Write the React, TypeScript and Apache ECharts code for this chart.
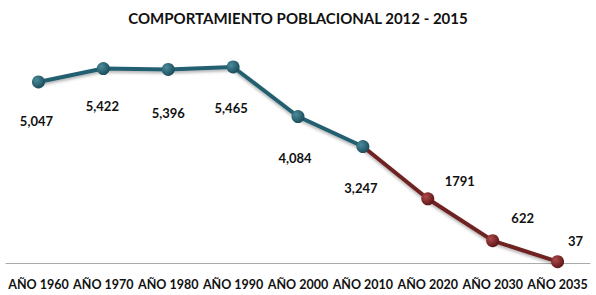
import React, { useEffect, useRef } from "react";
import * as echarts from "echarts";

const categories = ["AÑO 1960", "AÑO 1970", "AÑO 1980", "AÑO 1990", "AÑO 2000", "AÑO 2010", "AÑO 2020", "AÑO 2030", "AÑO 2035"];
const values = [5047, 5422, 5396, 5465, 4084, 3247, 1791, 622, 37];
const valueLabels = ["5,047", "5,422", "5,396", "5,465", "4,084", "3,247", "1791", "622", "37"];
const labelOffsets: [number, number][] = [
  [-2, 39], [-1, 37], [0, 44], [-2, 41], [-3, 41], [-2, 41], [32, -18], [30, -23], [18, -21],
];
const historicalEnd = 5;

const FONT = "Lato, 'Open Sans', sans-serif";

function ball(c1: string, c2: string) {
  return new echarts.graphic.RadialGradient(0.35, 0.35, 0.7, [
    { offset: 0, color: c1 },
    { offset: 1, color: c2 },
  ]);
}

export default function App() {
  const ref = useRef<HTMLDivElement>(null);
  useEffect(() => {
    document.body.style.margin = "0";
    if (!ref.current) return;
    const chart = echarts.init(ref.current, null, { renderer: "svg" });
    const mkLabel = (i: number) => ({
      show: true,
      position: "inside",
      offset: labelOffsets[i],
      formatter: valueLabels[i],
      color: "#111",
      fontFamily: FONT,
      fontWeight: "bold",
      fontSize: 13,
    });
    const teal = values.map((v, i) =>
      i <= historicalEnd ? { value: v, label: mkLabel(i) } : "-"
    );
    const red = values.map((v, i) =>
      i < historicalEnd
        ? "-"
        : i === historicalEnd
        ? { value: v, symbol: "none", label: { show: false } }
        : { value: v, label: mkLabel(i) }
    );
    chart.setOption({
      animation: false,
      title: {
        text: "COMPORTAMIENTO POBLACIONAL 2012 - 2015",
        left: "center",
        top: 5,
        textStyle: { fontFamily: FONT, fontWeight: "bold", fontSize: 15, color: "#111" },
      },
      grid: { left: 6, right: 6, top: 47.8, bottom: 32, containLabel: false },
      xAxis: {
        type: "category",
        data: categories,
        boundaryGap: true,
        axisLine: { lineStyle: { color: "#aaa", width: 1 } },
        axisTick: { show: false },
        axisLabel: {
          interval: 0,
          margin: 15,
          color: "#111",
          fontFamily: FONT,
          fontWeight: "bold",
          fontSize: 12.5,
        },
      },
      yAxis: {
        type: "value",
        min: 0,
        max: 6000,
        show: false,
        splitLine: { show: false },
      },
      series: [
        {
          type: "line",
          data: red,
          symbol: "circle",
          symbolSize: 13,
          lineStyle: { color: "#6e2224", width: 4, shadowColor: "rgba(0,0,0,0.3)", shadowBlur: 3, shadowOffsetY: 2 },
          itemStyle: { color: ball("#b04a4a", "#5a1416") },
          z: 2,
        },
        {
          type: "line",
          data: teal,
          symbol: "circle",
          symbolSize: 13,
          lineStyle: { color: "#235f6f", width: 4, shadowColor: "rgba(0,0,0,0.3)", shadowBlur: 3, shadowOffsetY: 2 },
          itemStyle: { color: ball("#4a8c9c", "#1a4a58") },
          z: 3,
        },
      ],
    });
    return () => chart.dispose();
  }, []);
  return <div ref={ref} style={{ width: 596, height: 295 }} />;
}
